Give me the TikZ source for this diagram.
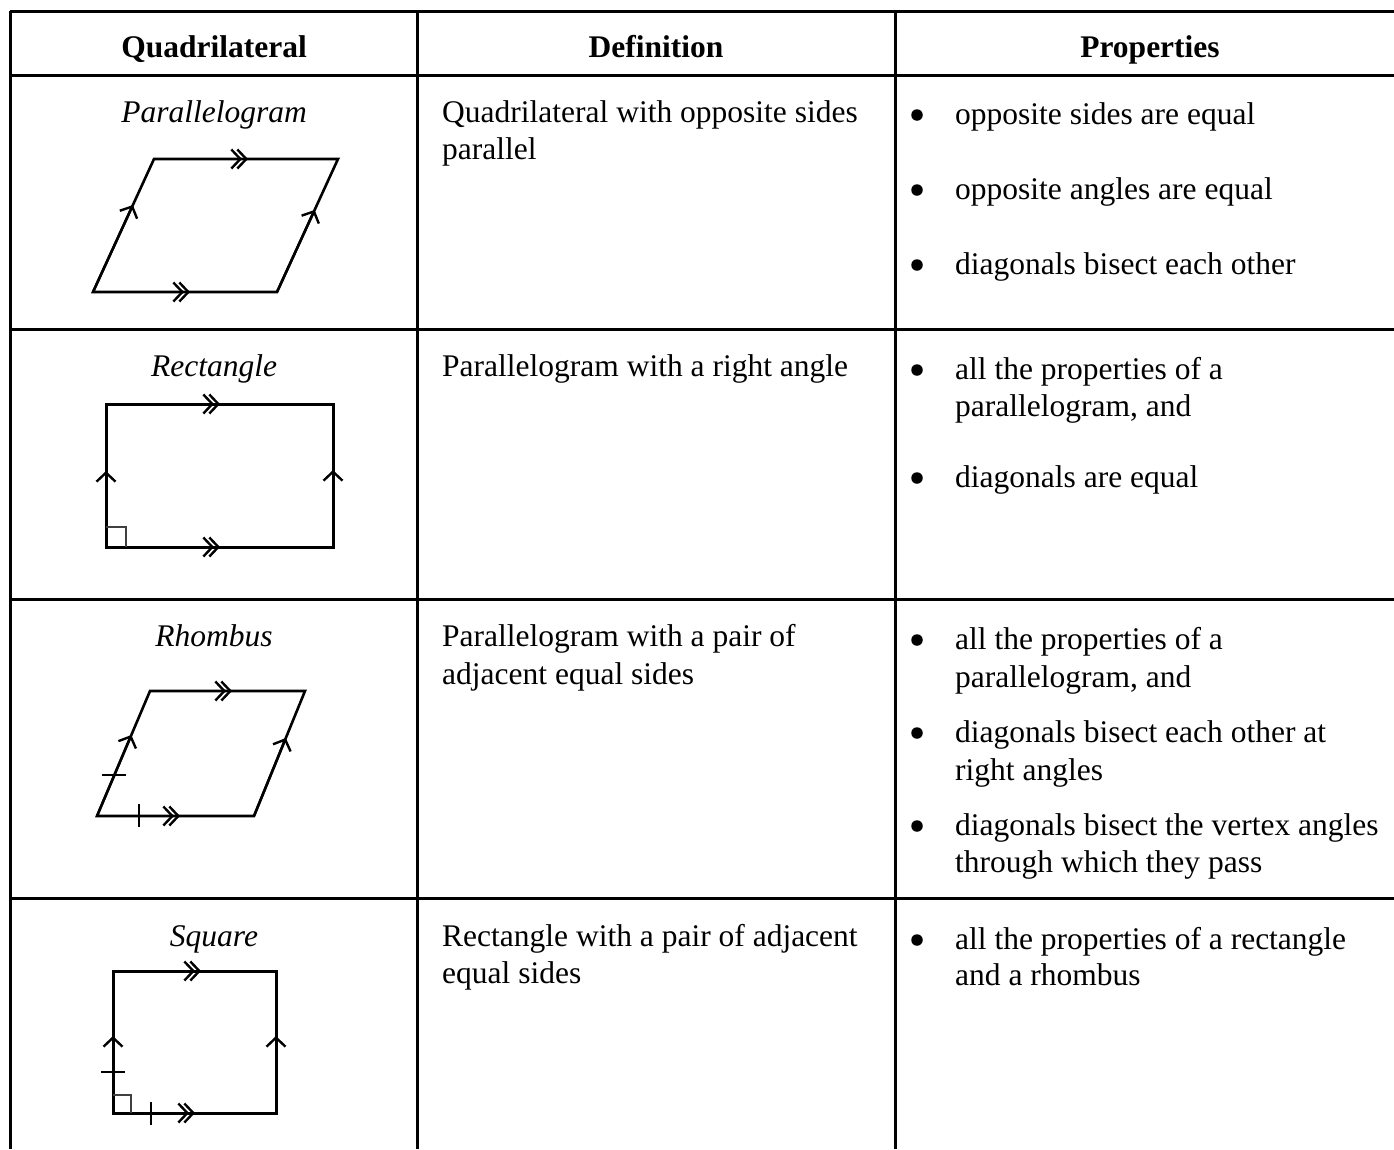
\documentclass[tikz,border=0pt]{standalone}
\usepackage{fontspec}
\setmainfont{Liberation Serif}
\usetikzlibrary{arrows.meta,calc}
\newcommand{\fsz}{\fontsize{31.5}{38}\selectfont}
\begin{document}
\begin{tikzpicture}[x=1pt,y=-1pt,
  grid/.style={line width=3pt},
  shp/.style={line width=2.6pt, line join=miter},
  shpb/.style={line width=3pt, line join=miter},
  chev/.style={line width=2.4pt, -{Straight Barb[length=9pt,width=19pt]}},
  tickm/.style={line width=2pt},
  rang/.style={line width=1.3pt, black!75},
  every node/.style={inner sep=0pt, font=\fsz},
  cell/.style={anchor=base west},
  head/.style={anchor=base, font=\fsz\bfseries},
  qname/.style={anchor=base, font=\fsz\itshape},
  bul/.style={circle, fill, minimum size=11.5pt, inner sep=0pt}
]
\useasboundingbox (0,0) rectangle (1394,1149);
% table grid
\coordinate (tl) at (10,11);
\coordinate (tr) at (1394,11);
\draw[grid] (tl) -- (tr);
\foreach \yy/\nm in {75/h0,329/h1,599/h2,898/h3}{
  \coordinate (\nm a) at (10,\yy); \coordinate (\nm b) at (1394,\yy);
  \draw[grid] (\nm a) -- (\nm b);}
\foreach \xx/\nm in {10/v0,417/v1,895/v2}{
  \coordinate (\nm a) at (\xx,11); \coordinate (\nm b) at (\xx,1149);
  \draw[grid] (\nm a) -- (\nm b);}
% headers
\node[head] (hq) at (214,57) {Quadrilateral};
\node[head] (hd) at (656,57) {Definition};
\node[head] (hp) at (1150,57) {Properties};
% row 1
\node[qname] (n1) at (214,122) {Parallelogram};
\node[cell] (d1a) at (442,122) {Quadrilateral with opposite sides};
\node[cell] (d1b) at (442,159) {parallel};
\foreach \yy/\tx [count=\i] in {124/opposite sides are equal,199/opposite angles are equal,274/diagonals bisect each other}{
  \node[bul] (b1\i) at (917,\yy-9) {};
  \node[cell] (p1\i) at (955,\yy) {\tx};}
% row 2
\node[qname] (n2) at (214,376) {Rectangle};
\node[cell] (d2a) at (442,376) {Parallelogram with a right angle};
\node[bul] (b21) at (917,379-9) {};
\node[cell] (p21) at (955,379) {all the properties of a};
\node[cell] (p22) at (955,416) {parallelogram, and};
\node[bul] (b22) at (917,487-9) {};
\node[cell] (p23) at (955,487) {diagonals are equal};
% row 3
\node[qname] (n3) at (214,646) {Rhombus};
\node[cell] (d3a) at (442,646) {Parallelogram with a pair of};
\node[cell] (d3b) at (442,684) {adjacent equal sides};
\node[bul] (b31) at (917,649-9) {};
\node[cell] (p31) at (955,649) {all the properties of a};
\node[cell] (p32) at (955,687) {parallelogram, and};
\node[bul] (b32) at (917,742-9) {};
\node[cell] (p33) at (955,742) {diagonals bisect each other at};
\node[cell] (p34) at (955,780) {right angles};
\node[bul] (b33) at (917,835-9) {};
\node[cell] (p35) at (955,835) {diagonals bisect the vertex angles};
\node[cell] (p36) at (955,872) {through which they pass};
% row 4
\node[qname] (n4) at (214,946) {Square};
\node[cell] (d4a) at (442,946) {Rectangle with a pair of adjacent};
\node[cell] (d4b) at (442,983) {equal sides};
\node[bul] (b41) at (917,949-9) {};
\node[cell] (p41) at (955,949) {all the properties of a rectangle};
\node[cell] (p42) at (955,985) {and a rhombus};

% parallelogram
\coordinate (p1) at (93,292); \coordinate (p2) at (277,292);
\coordinate (p3) at (338,159); \coordinate (p4) at (154,159);
\draw[shp] (p1) -- (p2) -- (p3) -- (p4) -- cycle;
\draw[chev] (p1) -- (190,292); \draw[chev] (p1) -- (184,292);
\draw[chev] (p4) -- (248,159); \draw[chev] (p4) -- (242,159);
\draw[chev] (p1) -- ($(p1)!0.654!(p4)$);
\draw[chev] (p2) -- ($(p2)!0.617!(p3)$);

% rectangle
\coordinate (r1) at (106,547); \coordinate (r2) at (333,547);
\coordinate (r3) at (333,404); \coordinate (r4) at (106,404);
\draw[shpb] (r1) -- (r2) -- (r3) -- (r4) -- cycle;
\draw[chev] (r4) -- (220,404); \draw[chev] (r4) -- (214,404);
\draw[chev] (r1) -- (220,547); \draw[chev] (r1) -- (214,547);
\draw[chev] (r1) -- (106,471);
\draw[chev] (r2) -- (333,470);
\draw[rang] (106,527) -- (126,527) -- (126,547);

% rhombus
\coordinate (h1) at (97,816); \coordinate (h2) at (254,816);
\coordinate (h3) at (305,691); \coordinate (h4) at (150,691);
\draw[shp] (h1) -- (h2) -- (h3) -- (h4) -- cycle;
\draw[chev] (h4) -- (232,691); \draw[chev] (h4) -- (226,691);
\draw[chev] (h1) -- (180,816); \draw[chev] (h1) -- (174,816);
\draw[chev] (h1) -- ($(h1)!0.648!(h4)$);
\draw[chev] (h2) -- ($(h2)!0.624!(h3)$);
\coordinate (hk) at ($(h1)!0.33!(h4)$);
\draw[tickm] ($(hk)+(-12,0)$) -- ($(hk)+(12,0)$);
\draw[tickm] (139,804) -- (139,827);

% square
\coordinate (s1) at (113,1113); \coordinate (s2) at (276,1113);
\coordinate (s3) at (276,971); \coordinate (s4) at (113,971);
\draw[shpb] (s1) -- (s2) -- (s3) -- (s4) -- cycle;
\draw[chev] (s4) -- (201,971); \draw[chev] (s4) -- (195,971);
\draw[chev] (s1) -- (195,1113); \draw[chev] (s1) -- (189,1113);
\draw[chev] (s1) -- (113,1036);
\draw[chev] (s2) -- (276,1036);
\draw[tickm] (101,1072) -- (125,1072);
\draw[tickm] (151,1102) -- (151,1125);
\draw[rang] (113,1095) -- (131,1095) -- (131,1113);
\end{tikzpicture}
\end{document}
